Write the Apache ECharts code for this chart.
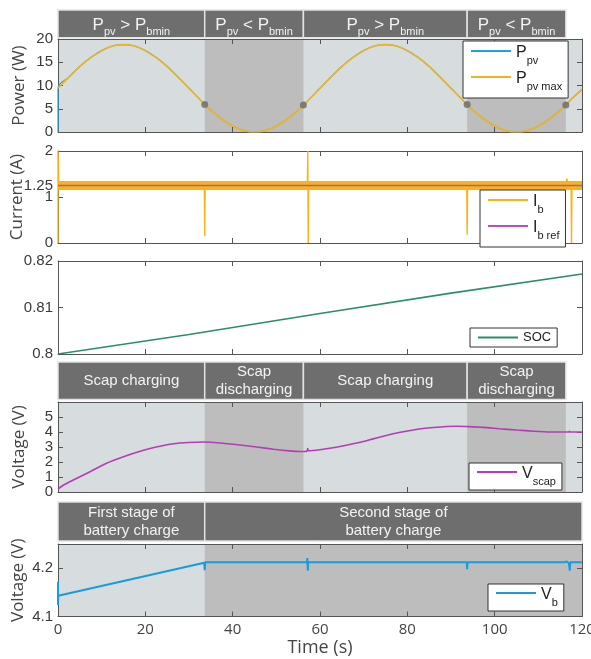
<!DOCTYPE html>
<html><head><meta charset="utf-8">
<script src="https://cdn.jsdelivr.net/npm/echarts@6/dist/echarts.min.js"></script>
<style>html,body{margin:0;padding:0;background:#fff}#c{width:591px;height:659px}</style>
</head><body><div id="c"></div>
<script>
// ---------- data ----------
const timeRange = [0, 120];
const xTicks = [0, 20, 40, 60, 80, 100, 120];
// region boundaries (s)
const phaseBounds = [0, 33.6, 56.2, 93.7, 116.3, 120];
const powerHeaders = ['P>', 'P<', 'P>', 'P<'];
const scapHeaders = ['Scap charging', 'Scap\ndischarging', 'Scap charging', 'Scap\ndischarging'];
const batteryHeaders = ['First stage of\nbattery charge', 'Second stage of\nbattery charge'];
const batteryBounds = [0, 33.6, 120];

const tP = [0,2.5,5,7.5,10,12.5,15,17.5,20,22.5,25,27.5,30,32.5,35,37.5,40,42.5,45,47.5,50,52.5,55,57.5,60,62.5,65,67.5,70,72.5,75,77.5,80,82.5,85,87.5,90,92.5,95,97.5,100,102.5,105,107.5,110,112.5,115,117.5,120];
const pPvMax = [9.4,11.8,14.1,16.0,17.5,18.5,18.8,18.5,17.5,16.0,14.1,11.8,9.4,7.0,4.7,2.8,1.3,0.3,0.0,0.3,1.3,2.8,4.7,7.0,9.4,11.8,14.1,16.0,17.5,18.5,18.8,18.5,17.5,16.0,14.1,11.8,9.4,7.0,4.7,2.8,1.3,0.3,0.0,0.3,1.3,2.8,4.7,7.0,9.2];
const pPvStart = [[0, 0]];
const boundaryDots = [[33.6, 5.9], [56.2, 5.8], [93.7, 5.9], [116.3, 5.8]];

const ibLevel = [[0, 1.25], [120, 1.25]];
const tIb = [0,0,0.2,33.5,33.6,33.7,57.1,57.2,57.3,57.4,93.6,93.7,93.8,116.3,116.5,116.8,117.5,117.6,117.7,120];
const ibVals = [0,2,1.25,1.25,0.15,1.25,1.25,2,0,1.25,1.25,0.18,1.25,1.25,1.4,1.3,1.25,0,1.25,1.25];
const ibRef = [[0, 1.25], [120, 1.25]];

const tSoc = [0, 30, 60, 90, 120];
const soc = [0.8, 0.8042, 0.8087, 0.8131, 0.8172];

const tVs = [0,1.5,3.5,7,11,15,19,22.5,26.5,30,33.3,37,41.7,45.5,49.4,53,55.5,57,57.2,57.3,60,63,66.5,70.7,74.5,78.4,82,86,89,91.4,94,97.4,101,105,109,112.7,117,117.1,117.2,120];
const vScap = [0.2,0.5,0.8,1.3,1.9,2.35,2.73,3.0,3.22,3.3,3.33,3.27,3.13,3.0,2.85,2.74,2.7,2.72,2.9,2.75,2.82,2.95,3.15,3.42,3.72,3.98,4.17,4.3,4.37,4.38,4.36,4.31,4.22,4.13,4.05,4.0,4.0,4.05,4.0,4.0];

const tVb = [0,0,0,0.05,33.5,33.6,33.7,57.0,57.1,57.2,57.3,93.6,93.7,93.8,116,116.5,117,117.2,117.3,120];
const vB = [4.143,4.172,4.124,4.143,4.211,4.196,4.212,4.212,4.221,4.195,4.212,4.212,4.198,4.212,4.212,4.214,4.21,4.195,4.212,4.212];

const pairs = (xs, ys) => xs.map((x, i) => [x, ys[i]]);

// ---------- style ----------
const LIGHT = '#d7dcdf', DARK = '#bdbdbd', HEAD = '#6e6e6e', AX = '#555';
const TICKF = 'Liberation Sans';
const TITLEF = 'Open Sans';

const plots = [
  {top: 39, height: 93, bg: LIGHT, ymin: 0, ymax: 20, lab: [0,5,10,15,20], tick: [0,5,10,15,20], name: 'Power (W)', gap: 30},
  {top: 151, height: 92, bg: '#fff', ymin: 0, ymax: 2, lab: [0,1,1.25,2], tick: [0,1,2], name: 'Current (A)', gap: 32},
  {top: 261, height: 93, bg: '#fff', ymin: 0.8, ymax: 0.82, lab: [0.8,0.81,0.82], tick: [0.8,0.81,0.82], name: '', gap: 30},
  {top: 402, height: 90, bg: LIGHT, ymin: 0, ymax: 6, lab: [0,1,2,3,4,5], tick: [0,1,2,3,4,5], name: 'Voltage (V)', gap: 30},
  {top: 544, height: 72.5, bg: LIGHT, ymin: 4.1, ymax: 4.25, lab: [4.1,4.2], tick: [4.1,4.2], name: 'Voltage (V)', gap: 31}
];
const heads = [{top: 10, height: 27.7}, {top: 362, height: 37.5}, {top: 502, height: 39}];

const grid = [], xAxis = [], yAxis = [];
plots.forEach((p, i) => {
  grid.push({left: 58, right: 9, top: p.top, height: p.height, show: true, backgroundColor: p.bg, borderWidth: 0,
    containLabel: false, outerBoundsMode: 'none'});
  const isLast = i === plots.length - 1;
  ['bottom', 'top'].forEach(pos => {
    xAxis.push({type: 'value', gridIndex: i, position: pos, min: timeRange[0], max: timeRange[1], interval: 20, z: 3,
      axisLine: {show: true, onZero: false, lineStyle: {color: AX, width: 1}},
      axisTick: {show: true, inside: true, length: 5, lineStyle: {color: AX}},
      axisLabel: {show: isLast && pos === 'bottom', fontFamily: TITLEF, fontSize: 15, color: '#444', margin: 6},
      splitLine: {show: false},
      name: (isLast && pos === 'bottom') ? 'Time (s)' : '', nameLocation: 'middle', nameGap: 22, nameMoveOverlap: false,
      nameTextStyle: {fontFamily: TITLEF, fontSize: 18, color: '#444'}});
  });
  ['left', 'right'].forEach(pos => {
    yAxis.push({type: 'value', gridIndex: i, position: pos, min: p.ymin, max: p.ymax, z: 3,
      axisLine: {show: true, onZero: false, lineStyle: {color: AX, width: 1}},
      axisTick: {show: true, inside: true, length: 5, customValues: p.tick, lineStyle: {color: AX}},
      axisLabel: {show: pos === 'left', customValues: p.lab, fontFamily: TICKF, fontSize: 15, color: '#3a3a3a', margin: 5,
        formatter: v => String(Math.round(v * 1000) / 1000)},
      splitLine: {show: false},
      name: pos === 'left' ? p.name : '', nameLocation: 'middle', nameGap: p.gap, nameMoveOverlap: false,
      nameTextStyle: {fontFamily: TITLEF, fontSize: 17, color: '#444'}});
  });
});
heads.forEach((h, k) => {
  grid.push({left: 58, right: 9, top: h.top, height: h.height, containLabel: false, outerBoundsMode: 'none'});
  xAxis.push({type: 'value', gridIndex: plots.length + k, min: timeRange[0], max: timeRange[1], show: false});
  yAxis.push({type: 'value', gridIndex: plots.length + k, min: 0, max: 1, show: false});
});

const hRich = {
  a: {fontFamily: TICKF, fontSize: 17, color: '#f3f3f3', lineHeight: 20, verticalAlign: 'bottom'},
  s: {fontFamily: TICKF, fontSize: 11, color: '#f3f3f3', lineHeight: 20, verticalAlign: 'bottom', padding: [0,0,-4,0]},
  t: {fontFamily: TICKF, fontSize: 15, color: '#f3f3f3', lineHeight: 18}
};
function headerText(code) {
  if (code === 'P>') return '{a|P}{s|pv}{a| > P}{s|bmin}';
  if (code === 'P<') return '{a|P}{s|pv}{a| < P}{s|bmin}';
  return code.split('\n').map(l => '{t|' + l + '}').join('\n');
}
function headerAreas(labels, bounds) {
  return labels.map((lab, i) => [
    {xAxis: bounds[i], label: {formatter: headerText(lab)}},
    {xAxis: bounds[i + 1]}
  ]);
}
function darkAreas(list) {
  return list.map(b => [{xAxis: b[0]}, {xAxis: b[1]}]);
}
function areaSeries(xi, yi, areas, z, itemStyle, label) {
  return {type: 'line', xAxisIndex: xi, yAxisIndex: yi, data: [[0, 0]], symbol: 'none', silent: true,
    lineStyle: {opacity: 0}, z: z,
    markArea: {silent: true, itemStyle: itemStyle, label: label || {show: false}, data: areas}};
}

const COL = {ppv: '#1fa3de', ppvmax: '#f0b323', ib: '#f7b418', ibref: '#b454b6', soc: '#2b8d6c', vscap: '#b43cb7', vb: '#1a9bda'};
const X = i => i * 2, Y = i => i * 2;

const series = [
  areaSeries(X(0), Y(0), darkAreas([[phaseBounds[1], phaseBounds[2]], [phaseBounds[3], phaseBounds[4]]]), 1, {color: DARK}),
  {name: 'Ppv', type: 'line', xAxisIndex: X(0), yAxisIndex: Y(0), data: pPvStart.concat(pairs(tP, pPvMax)), smooth: 0.4,
    showSymbol: false, symbol: 'none', lineStyle: {color: COL.ppv, width: 1.2}, itemStyle: {color: COL.ppv}, z: 4},
  {name: 'Ppv max', type: 'line', xAxisIndex: X(0), yAxisIndex: Y(0), data: pairs(tP, pPvMax), smooth: 0.4,
    showSymbol: false, symbol: 'none', lineStyle: {color: COL.ppvmax, width: 1.6}, itemStyle: {color: COL.ppvmax}, z: 5},
  {name: 'dots', type: 'scatter', xAxisIndex: X(0), yAxisIndex: Y(0), data: boundaryDots, symbolSize: 7,
    itemStyle: {color: '#6a6a6a'}, z: 6, silent: true},

  {name: 'Ib', type: 'line', xAxisIndex: X(1), yAxisIndex: Y(1), data: ibLevel, showSymbol: false, symbol: 'none',
    lineStyle: {color: COL.ib, width: 9}, itemStyle: {color: COL.ib}, z: 4},
  {name: 'Ib', type: 'line', xAxisIndex: X(1), yAxisIndex: Y(1), data: pairs(tIb, ibVals), showSymbol: false, symbol: 'none',
    lineStyle: {color: COL.ib, width: 1.4}, itemStyle: {color: COL.ib}, z: 4},
  {name: 'Ib ref', type: 'line', xAxisIndex: X(1), yAxisIndex: Y(1), data: ibRef, showSymbol: false, symbol: 'none',
    lineStyle: {color: COL.ibref, width: 1.6}, itemStyle: {color: COL.ibref}, z: 5},

  {name: 'SOC', type: 'line', xAxisIndex: X(2), yAxisIndex: Y(2), data: pairs(tSoc, soc), showSymbol: false, symbol: 'none',
    lineStyle: {color: COL.soc, width: 1.6}, itemStyle: {color: COL.soc}, z: 5},

  areaSeries(X(3), Y(3), darkAreas([[phaseBounds[1], phaseBounds[2]], [phaseBounds[3], phaseBounds[4]]]), 1, {color: DARK}),
  {name: 'Vscap', type: 'line', xAxisIndex: X(3), yAxisIndex: Y(3), data: pairs(tVs, vScap), showSymbol: false, symbol: 'none',
    smooth: 0.2, lineStyle: {color: COL.vscap, width: 1.6}, itemStyle: {color: COL.vscap}, z: 5},

  areaSeries(X(4), Y(4), darkAreas([[batteryBounds[1], batteryBounds[2]]]), 1, {color: DARK}),
  {name: 'Vb', type: 'line', xAxisIndex: X(4), yAxisIndex: Y(4), data: pairs(tVb, vB), showSymbol: false, symbol: 'none',
    lineStyle: {color: COL.vb, width: 2}, itemStyle: {color: COL.vb}, z: 5},
];
const headStyle = {color: HEAD, borderColor: '#e2e2e2', borderWidth: 1.5};
const headLabel = {show: true, position: 'inside', rich: hRich, color: '#f3f3f3'};
series.push(areaSeries(10, 10, headerAreas(powerHeaders, phaseBounds), 2, headStyle, headLabel));
series.push(areaSeries(11, 11, headerAreas(scapHeaders, phaseBounds), 2, headStyle, headLabel));
series.push(areaSeries(12, 12, headerAreas(batteryHeaders, batteryBounds), 2, headStyle, headLabel));

const legRich = {
  a: {fontFamily: TICKF, fontSize: 16, color: '#222', lineHeight: 20, verticalAlign: 'bottom'},
  s: {fontFamily: TICKF, fontSize: 11, color: '#222', lineHeight: 20, verticalAlign: 'bottom', padding: [0,0,-5,0]},
  c: {fontFamily: TICKF, fontSize: 13, color: '#222'}
};
const legText = {
  'Ppv': '{a|P}{s|pv}', 'Ppv max': '{a|P}{s|pv max}', 'Ib': '{a|I}{s|b}', 'Ib ref': '{a|I}{s|b ref}',
  'SOC': '{c|SOC}', 'Vscap': '{a|V}{s|scap}', 'Vb': '{a|V}{s|b}'
};
function leg(names, left, top, gap, pad) {
  return {data: names, orient: 'vertical', left: left, top: top, z: 10,
    backgroundColor: '#fff', borderColor: '#333', borderWidth: 1, padding: pad || [3, 6, 3, 8], itemGap: gap,
    icon: 'rect', itemWidth: 40, itemHeight: 2, selectedMode: false,
    formatter: n => legText[n], textStyle: {rich: legRich}};
}
const legend = [
  leg(['Ppv', 'Ppv max'], 463, 41, 5, [4, 6, 6, 8]),
  leg(['Ib', 'Ib ref'], 480, 190, 5, [4, 6, 6, 8]),
  leg(['SOC'], 470, 328, 0),
  leg(['Vscap'], 469, 463, 0),
  leg(['Vb'], 488, 584, 0)
];

const chart = echarts.init(document.getElementById('c'), null, {renderer: 'canvas'});
chart.setOption({animation: false, backgroundColor: '#fff', grid, xAxis, yAxis, series, legend});
</script></body></html>
